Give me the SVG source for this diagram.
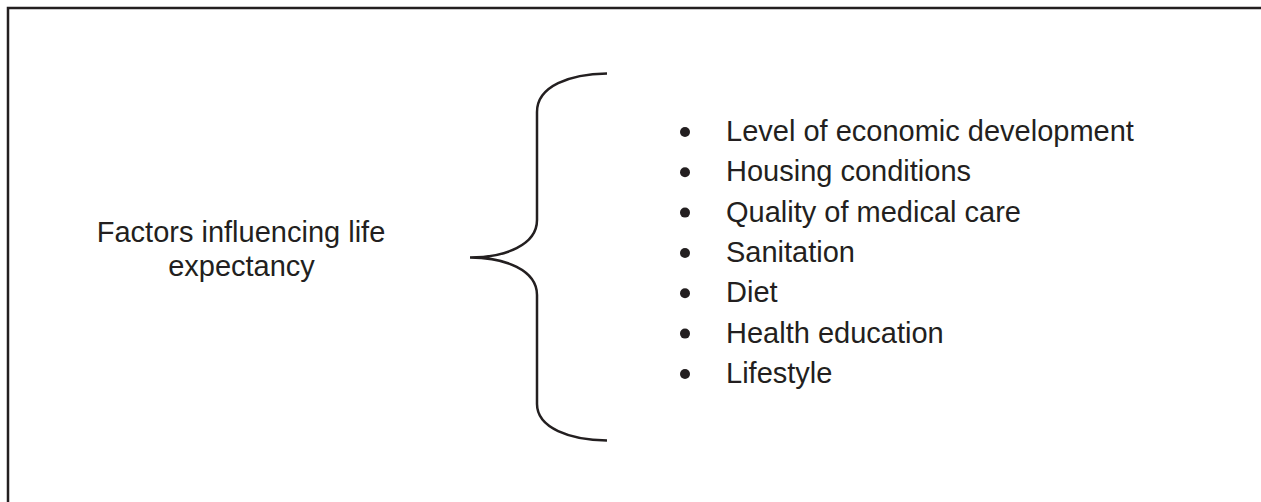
<svg xmlns="http://www.w3.org/2000/svg" width="1261" height="502" viewBox="0 0 1261 502">
<style>
.t{font-family:"Liberation Sans",Arial,sans-serif;font-size:29px;fill:#231f20}
.ln{fill:none;stroke:#231f20;stroke-width:2.5}
.b{fill:#231f20}
</style>
<rect width="1261" height="502" fill="#fff"/>
<path class="ln" d="M8 502 V8 H1261" stroke-width="3"/>
<g id="title">
<text class="t" x="241" y="242" text-anchor="middle">Factors influencing life</text>
<text class="t" x="241.5" y="276" text-anchor="middle">expectancy</text>
</g>
<g id="connectors">
<path class="ln" d="M607 73.5 C570 74 537 86 537 112 V220 C537 245 505 257.5 470 257.5 C505 257.5 537 270 537 295 V404 C537 428 570 440 607 440.5"/>
</g>
<g id="list">
<circle class="b" cx="685" cy="132" r="5"/>
<circle class="b" cx="685" cy="172.3" r="5"/>
<circle class="b" cx="685" cy="212.6" r="5"/>
<circle class="b" cx="685" cy="253" r="5"/>
<circle class="b" cx="685" cy="293.3" r="5"/>
<circle class="b" cx="685" cy="333.6" r="5"/>
<circle class="b" cx="685" cy="374" r="5"/>
<text class="t" x="726" y="141">Level of economic development</text>
<text class="t" x="726" y="181.3">Housing conditions</text>
<text class="t" x="726" y="221.6">Quality of medical care</text>
<text class="t" x="726" y="262">Sanitation</text>
<text class="t" x="726" y="302.3">Diet</text>
<text class="t" x="726" y="342.6">Health education</text>
<text class="t" x="726" y="383">Lifestyle</text>
</g>
</svg>
